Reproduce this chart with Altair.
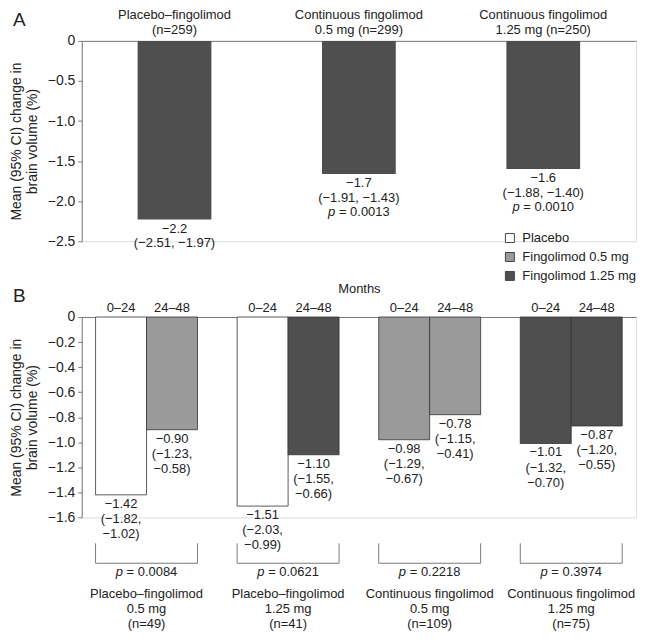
import altair as alt
import pandas as pd

FONT = "Liberation Sans"
TXT = "#222222"
AX = "#7a7a7a"
MINUS = "\u2212"


def fmt(v, d):
    return f"{v:.{d}f}".replace("-", MINUS)


# ---------------- Panel A data ----------------
a_groups = ["Placebo–fingolimod\n(n=259)",
            "Continuous fingolimod\n0.5 mg (n=299)",
            "Continuous fingolimod\n1.25 mg (n=250)"]
a_mean = [-2.23, -1.66, -1.60]
a_lo = [-2.51, -1.91, -1.88]
a_hi = [-1.97, -1.43, -1.40]
a_p = ["", "0.0013", "0.0010"]
a_ticks = [0, -0.5, -1.0, -1.5, -2.0, -2.5]

# ---------------- Panel B data ----------------
b_groups = ["Placebo–fingolimod\n0.5 mg\n(n=49)",
            "Placebo–fingolimod\n1.25 mg\n(n=41)",
            "Continuous fingolimod\n0.5 mg\n(n=109)",
            "Continuous fingolimod\n1.25 mg\n(n=75)"]
b_periods = ["0–24", "24–48"]
b_mean = [-1.42, -0.90, -1.51, -1.10, -0.98, -0.78, -1.01, -0.87]
b_lo = [-1.82, -1.23, -2.03, -1.55, -1.29, -1.15, -1.32, -1.20]
b_hi = [-1.02, -0.58, -0.99, -0.66, -0.67, -0.41, -0.70, -0.55]
b_treat = ["Placebo", "Fingolimod 0.5 mg", "Placebo", "Fingolimod 1.25 mg",
           "Fingolimod 0.5 mg", "Fingolimod 0.5 mg", "Fingolimod 1.25 mg", "Fingolimod 1.25 mg"]
b_p = ["0.0084", "0.0621", "0.2218", "0.3974"]
b_ticks = [0, -0.2, -0.4, -0.6, -0.8, -1.0, -1.2, -1.4, -1.6]

treatments = ["Placebo", "Fingolimod 0.5 mg", "Fingolimod 1.25 mg"]
treat_colors = ["#ffffff", "#9a9a9a", "#4f4f4f"]

W, H = 556, 201
ytitle = ["Mean (95% CI) change in", "brain volume (%)"]
tick_expr = "datum.value == 0 ? '0' : format(datum.value, '.1f')"


def yaxis(ticks):
    return alt.Axis(values=ticks, labelExpr=tick_expr, title=ytitle, grid=False,
                    tickSize=4, tickColor=AX, domainColor=AX, labelPadding=3,
                    labelFontSize=14, labelColor=TXT, labelFont=FONT,
                    titleFontSize=14, titleFontWeight="normal", titleColor=TXT,
                    titleFont=FONT, titlePadding=8, titleLineHeight=16)


def ptext(data, x, y, dy=0, baseline="middle"):
    pp = alt.Chart(data).mark_text(baseline=baseline, dy=dy, dx=-23.7, align="right",
                                   fontStyle="italic", fontSize=13, font=FONT, color=TXT
                                   ).encode(x=x, y=y, text=alt.value("p"))
    pv = alt.Chart(data).mark_text(baseline=baseline, dy=dy, dx=-20, align="left",
                                   fontSize=13, font=FONT, color=TXT
                                   ).encode(x=x, y=y, text="pval:N")
    return pp, pv


# ---------------- Panel A ----------------
dfa = pd.DataFrame({
    "group": a_groups,
    "mean": a_mean,
    "label": [f"{fmt(m, 1)}\n({fmt(l, 2)}, {fmt(h, 2)})" for m, l, h in zip(a_mean, a_lo, a_hi)],
    "p": a_p,
})
dfa["pval"] = "= " + dfa["p"]
dfa_p = dfa[dfa["p"] != ""]

xa = alt.X("group:N", sort=a_groups,
           scale=alt.Scale(paddingInner=0.6, paddingOuter=0.303),
           axis=alt.Axis(orient="top", title=None, labels=False, ticks=False,
                         domain=True, domainColor=AX))
ya = alt.Y("mean:Q", scale=alt.Scale(domain=[-2.5, 0], nice=False), axis=yaxis(a_ticks))

a_bars = alt.Chart(dfa).mark_bar(color="#4f4f4f").encode(x=xa, y=ya)
a_head = alt.Chart(dfa).mark_text(baseline="top", lineBreak="\n", lineHeight=14.7,
                                  fontSize=13, font=FONT, color=TXT).encode(
    x=xa, y=alt.value(-31.5), text="group:N")
a_lab = alt.Chart(dfa).mark_text(baseline="top", dy=3, lineBreak="\n", lineHeight=14.7,
                                 fontSize=13, font=FONT, color=TXT).encode(x=xa, y=ya, text="label:N")
a_pp, a_pv = ptext(dfa_p, xa, ya, dy=32.4, baseline="top")
a_letter = alt.Chart(pd.DataFrame({"t": ["A"]})).mark_text(
    align="left", baseline="top", fontSize=19, font=FONT, color=TXT
).encode(text="t:N", x=alt.value(-69), y=alt.value(-30))

panelA = alt.layer(a_bars, a_head, a_lab, a_pp, a_pv, a_letter).properties(width=W, height=H)

# ---------------- Panel B ----------------
dfb = pd.DataFrame({
    "group": [g for g in b_groups for _ in b_periods],
    "period": b_periods * len(b_groups),
    "mean": b_mean,
    "treat": b_treat,
    "label": [f"{fmt(m, 2)}\n({fmt(l, 2)},\n{fmt(h, 2)})" for m, l, h in zip(b_mean, b_lo, b_hi)],
})
dfg = pd.DataFrame({"group": b_groups, "pval": ["= " + p for p in b_p]})

xscale_b = alt.Scale(paddingInner=0.28, paddingOuter=0.0975)
xaxis_b = alt.Axis(orient="top", labels=False, ticks=False, domain=True, domainColor=AX,
                   title="Months", titleFontSize=13, titleFont=FONT, titleFontWeight="normal",
                   titleColor=TXT, titleY=-28.7, titleBaseline="middle")
xb = alt.X("group:N", sort=b_groups, scale=xscale_b, axis=xaxis_b)
xbL = alt.X("group:N", sort=b_groups, scale=xscale_b, axis=xaxis_b, bandPosition=0)
xbR = alt.X("group:N", sort=b_groups, scale=xscale_b, axis=xaxis_b, bandPosition=1)
xo = alt.XOffset("period:N", sort=b_periods, scale=alt.Scale(paddingInner=0, paddingOuter=0))
yb = alt.Y("mean:Q", scale=alt.Scale(domain=[-1.6, 0], nice=False), axis=yaxis(b_ticks))

color = alt.Color("treat:N", scale=alt.Scale(domain=treatments, range=treat_colors),
                  legend=alt.Legend(orient="none", legendX=423, legendY=191.3, title=None,
                                    symbolType="square", symbolSize=81,
                                    symbolStrokeColor="#444444", symbolStrokeWidth=1,
                                    labelFontSize=13, labelFont=FONT, labelColor=TXT,
                                    rowPadding=5, labelOffset=6))

b_bars = alt.Chart(dfb).mark_bar(stroke="#333333", strokeWidth=0.8).encode(
    x=xb, xOffset=xo, y=yb, color=color)
b_per = alt.Chart(dfb).mark_text(baseline="bottom", dy=-2, fontSize=13, font=FONT, color=TXT).encode(
    x=xb, xOffset=xo, y=alt.value(0), text="period:N")
b_lab = alt.Chart(dfb).mark_text(baseline="top", dy=3, lineBreak="\n", lineHeight=15.2,
                                 fontSize=13, font=FONT, color=TXT).encode(
    x=xb, xOffset=xo, y=yb, text="label:N")
br_l = alt.Chart(dfg).mark_rule(color=AX, strokeWidth=1).encode(x=xbL, y=alt.value(227), y2=alt.value(247))
br_r = alt.Chart(dfg).mark_rule(color=AX, strokeWidth=1).encode(x=xbR, y=alt.value(227), y2=alt.value(247))
br_b = alt.Chart(dfg).mark_bar(color=AX).encode(x=xb, y=alt.value(246.5), y2=alt.value(247.5))
b_pp, b_pv = ptext(dfg, xb, alt.value(256.2))
b_names = alt.Chart(dfg).mark_text(baseline="top", lineBreak="\n", lineHeight=15,
                                   fontSize=13, font=FONT, color=TXT).encode(
    x=xb, y=alt.value(271.5), text="group:N")
b_letter = alt.Chart(pd.DataFrame({"t": ["B"]})).mark_text(
    align="left", baseline="top", fontSize=19, font=FONT, color=TXT
).encode(text="t:N", x=alt.value(-69), y=alt.value(-30))

panelB = alt.layer(b_bars, b_per, b_lab, br_l, br_r, br_b, b_pp, b_pv, b_names, b_letter).properties(
    width=W, height=H)

chart = alt.vconcat(panelA, panelB, spacing=76, bounds="flush").properties(
    padding={"left": 0, "top": 0, "right": 0, "bottom": 0}
).configure_view(stroke=None).configure(font=FONT)

chart.save("out.html", embed_options={"renderer": "svg", "actions": False})
